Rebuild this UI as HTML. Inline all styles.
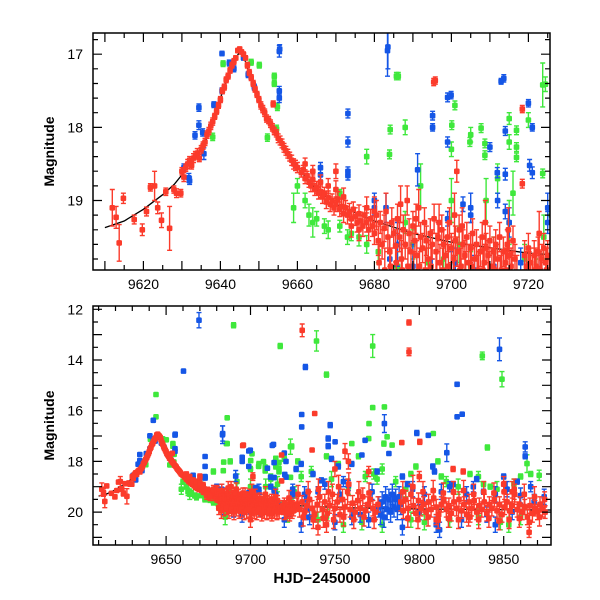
<!DOCTYPE html>
<html><head><meta charset="utf-8"><style>
body{margin:0;background:#fff;}
svg{display:block;font-family:"Liberation Sans",sans-serif;}
</style></head><body>
<svg id="chart" width="600" height="600" viewBox="0 0 600 600">
<defs>
<clipPath id="clipTop"><rect x="93" y="33" width="457" height="237"/></clipPath>
<clipPath id="clipBot"><rect x="93" y="306" width="458" height="239"/></clipPath>
</defs>
<g id="topPlot"></g>
<g id="botPlot"></g>
</svg>
<script>
const modelT=[9610,9615,9620,9625,9628,9630,9632,9634,9636,9638,9640,9642,9644,9645,9646,9648,9650,9652,9654,9656,9658,9660,9665,9670,9680,9690,9700,9720,9750,9800,9880];
const modelM=[19.37,19.28,19.12,18.92,18.78,18.65,18.5,18.35,18.2,17.95,17.6,17.3,17.05,16.97,17.02,17.35,17.65,17.9,18.07,18.25,18.42,18.55,18.85,19.05,19.28,19.45,19.57,19.72,19.82,19.88,19.92];

const greenPts=[[9640.7,17.13,.04],[9650.1,17.15,.04],[9648,17.11,.04],[9654,17.3,.04],[9654,17.4,.04],[9654.8,17.72,.05],[9652.2,18.14,.05],[9638,18.13,.05],[9654.6,18.02,.05],[9685.7,17.3,.05],[9700.9,17.7,.06],[9684.1,18.03,.06],[9700.1,17.97,.06],[9707.7,18.01,.06],[9715,17.88,.08],[9723.7,17.42,.3],[9683.9,18.37,.06],[9704.8,18.2,.06],[9708.7,18.22,.06],[9708.7,18.38,.06],[9716.9,18.04,.06],[9716.9,18.27,.06],[9716.9,18.41,.06],[9723.7,18.63,.06],[9671,18.9,.05],[9671,19.35,.08],[9673,19.5,.1],[9674,19.45,.1],[9662,19.0,.1],[9663,19.2,.15],[9664,19.3,.2],[9660,18.8,.1],[9659,19.1,.2],[9688,19.3,.15],[9690,19.6,.2],[9686,19.9,.2],[9698,19.8,.2],[9702,19.6,.25],[9705,19.9,.2],[9709,19.0,.3],[9715,19.3,.3],[9716,18.9,.3],[9724,19.5,.3],[9726,19.2,.2],[9692,18.8,.3],[9700,19.0,.3],[9665,19.25,.1],[9667,19.35,.1],[9668,19.4,.12],[9676,19.5,.12],[9678,19.6,.12],[9681,19.7,.15],[9694,19.85,.2],[9711,19.7,.2],[9719,19.8,.2],
[9690,12.63,.1],[9717.6,13.45,.1],[9739.1,13.25,.4],[9772.4,13.45,.45],[9837.3,13.84,.15],[9849,14.76,.3],[9745,14.58,.1],[9644,15.36,.04],[9644,16.24,.05],[9686.2,16.28,.05],[9772.4,15.88,.05],[9770.2,16.51,.05],[9686.2,17.3,.05],[9724.4,17.41,.1],[9808.3,16.9,.05],[9840.3,17.45,.1],[9863.8,18.09,.35],[9779.3,15.85,.05],[9780.9,17.03,.05],[9783.9,17.36,.05],[9779,17.3,.1],[9770,17.1,.05],[9760,17.3,.05],[9720,17.9,.1],[9715,18.2,.1],[9728,18.0,.1],[9745,17.8,.1],[9752,18.1,.1],[9764,17.8,.1],[9773,18.5,.2],[9775,18.7,.2],[9795,18.5,.1],[9798,18.2,.1],[9811,18.0,.1],[9813,18.6,.1],[9830,18.5,.1],[9838,18.9,.1],[9842,19.0,.1],[9860,18.6,.1],[9866,18.5,.1],[9700,18.3,.1],[9688,18.0,.1],[9678,18.4,.1],[9705,18.1,.1],[9755,20.5,.3],[9745,20.2,.3],[9722,20.1,.3],[9685,20.2,.3],[9795,20.3,.3],[9803,20.4,.3],[9853,20.5,.3],[9860,20.2,.3],
[9730,18.6,.2],[9736,18.4,.2],[9748,18.7,.3],[9758,19.0,.3],[9768,18.6,.2],[9778,18.3,.2],[9786,18.8,.2],[9792,19.1,.3],[9816,18.8,.2],[9823,19.0,.3],[9835,18.6,.2],[9846,19.1,.3],[9856,18.9,.2],[9871,18.55,.2],[9712,18.7,.2],[9740,20.3,.3],[9766,20.4,.3],[9778,20.5,.3],[9818,20.3,.3],[9835,20.2,.3],[9848,20.4,.3]];

const bluePts=[[9640.4,16.99,.03],[9642.3,17.12,.04],[9634.4,17.73,.05],[9634.4,17.97,.06],[9633.4,18.11,.05],[9635.4,18.07,.05],[9635.7,18.36,.08],[9638.3,17.69,.04],[9640.4,17.5,.04],[9631.8,18.69,.06],[9632,18.73,.05],[9630.5,18.55,.05],[9655.3,16.96,.08],[9655.3,17.5,.06],[9655.3,17.6,.06],[9647.2,17.28,.04],[9648.8,17.45,.04],[9643.5,17.2,.04],[9646,17.05,.03],
[9683.4,16.95,.35],[9712.9,17.37,.04],[9699,17.59,.06],[9673.1,17.81,.06],[9695.1,17.84,.06],[9695.1,18.0,.05],[9714,18.05,.06],[9720,17.67,.05],[9721,18.0,.05],[9673.1,18.2,.07],[9699,18.2,.07],[9710,18.27,.06],[9711.9,18.62,.07],[9714,18.64,.08],[9720.3,18.52,.08],[9721,18.62,.08],[9691.2,18.58,.22],[9673.1,18.66,.06],[9673.1,18.6,.06],[9666,18.55,.07],[9666,18.65,.07],[9680,19.0,.1],[9680,19.1,.1],[9683,19.1,.2],[9699,19.25,.1],[9703,19.05,.1],[9705,19.2,.1],[9712,19.0,.1],[9714,19.15,.1],[9725,19.3,.15],[9684,19.8,.3],[9686,19.6,.3],[9690,19.9,.3],[9701,19.85,.2],[9706,19.95,.2],[9711,19.9,.2],[9718,19.85,.2],[9723,19.95,.2],
[9669.5,12.43,.3],[9732.5,14.28,.1],[9660.3,14.44,.05],[9822.4,14.96,.08],[9847.5,13.58,.45],[9642.4,16.38,.05],[9730.3,16.15,.05],[9730.3,16.64,.05],[9747.2,16.57,.1],[9779.3,16.51,.35],[9822.4,16.24,.05],[9825.4,16.14,.05],[9683.5,16.9,.3],[9655.4,16.93,.06],[9699.9,17.56,.05],[9713.6,17.33,.05],[9750.1,17.23,.05],[9767.9,17.17,.05],[9798.5,16.88,.1],[9805.3,16.97,.05],[9816.3,17.66,.35],[9862.7,17.43,.2],[9862.7,17.8,.1],[9782,17.69,.05],[9766,17.75,.05],[9746,17.1,.1],[9746,17.4,.1],[9748,17.9,.1],[9752,18.2,.1],[9730,18.1,.1],[9727,18.3,.1],[9760,18.1,.1],[9775,18.4,.1],[9790,18.6,.1],[9808,18.2,.1],[9809,18.4,.1],[9820,18.9,.1],[9834,18.7,.1],[9850,18.6,.1],[9858,18.8,.1],[9838,19.2,.1],[9793,18.9,.1],[9737,18.5,.1],[9755,18.8,.2],[9742,18.75,.1],
[9776,19.8,.4],[9777,20.1,.4],[9778,19.6,.4],[9779,20.2,.4],[9780,19.4,.4],[9781,19.9,.4],[9782,19.5,.4],[9783,20.0,.4],[9784,19.3,.4],[9785,19.8,.4],[9786,19.5,.4],[9787,19.9,.4],[9788,19.4,.4],[9789,19.7,.4],[9733,19.9,.4],[9734,19.5,.4],[9735,20.2,.3],[9732,19.3,.3],[9760,20.2,.3],[9750,20.4,.3],[9810,20.5,.3],[9825,20.3,.3],[9840,20.1,.3],[9855,20.0,.3],[9868,19.6,.3],[9874,19.4,.3],[9700,20.0,.3],[9695,20.1,.3],[9720,20.3,.3],[9765,20.1,.3],[9800,20.0,.3],[9770,20.3,.3],
[9705,19.1,.2],[9715,19.3,.2],[9725,19.1,.2],[9740,19.2,.2],[9744,18.9,.2],[9753,19.3,.3],[9758,18.95,.2],[9772,19.2,.3],[9796,19.1,.3],[9803,19.3,.3],[9813,19.2,.3],[9818,19.0,.2],[9828,19.3,.3],[9832,19.0,.2],[9845,19.3,.3],[9852,19.1,.3],[9860,19.35,.3],[9866,19.0,.2],[9730,20.5,.3],[9790,20.6,.3],[9812,20.7,.3],[9845,20.5,.3]];

const redPts=[[9611.9,19.1,.25],[9612.9,19.23,.15],[9613.7,19.58,.25],[9614.8,18.97,.07],[9617.6,19.26,.06],[9619.7,19.4,.08],[9620.8,19.15,.06],[9621.8,18.82,.05],[9622.9,18.8,.2],[9623.7,19.1,.08],[9624.7,19.27,.1],[9625.8,18.88,.05],[9626.8,19.38,.3],[9627.9,18.85,.05],[9628.6,18.9,.06],[9629.7,18.9,.05],
[9630,18.6,.05],[9630.5,18.68,.06],[9631,18.55,.05],[9631.5,18.5,.06],[9632,18.45,.05],[9632.5,18.52,.05],[9633,18.42,.06],[9633.5,18.38,.05],[9634,18.35,.06],[9634.5,18.42,.05],[9635,18.3,.05],[9635.5,18.25,.05],[9636,18.2,.05],[9636.5,18.1,.05],[9637,18.05,.05],[9637.5,17.98,.05],[9638,17.92,.05],[9638.5,17.85,.04],[9639,17.78,.04],[9639.5,17.7,.04],[9640,17.62,.04],[9640.5,17.5,.04],[9641,17.45,.04],[9641.5,17.35,.04],[9642,17.3,.04],[9642.5,17.22,.04],[9643,17.15,.04],[9643.5,17.1,.04],[9644,17.05,.03],[9644.5,16.95,.03],[9645,16.93,.03],[9645.5,16.97,.03],[9646,17.0,.03],[9646.5,17.05,.03],[9647,17.15,.04],[9647.5,17.25,.04],[9648,17.32,.04],[9648.5,17.4,.04],[9649,17.48,.04],[9649.5,17.55,.04],[9650,17.62,.04],[9650.5,17.7,.05],[9651,17.75,.05],[9651.5,17.8,.05],[9652,17.88,.05],[9652.5,17.9,.05],[9653,17.95,.05],[9653.5,18.0,.05],[9654,18.05,.05],[9654.5,18.08,.05],[9655,18.15,.06],[9655.5,18.18,.06],[9656,18.22,.06],[9656.5,18.28,.06],[9657,18.32,.06],[9657.5,18.36,.06],[9658,18.4,.06],[9658.5,18.45,.07],[9659,18.5,.07],[9659.5,18.52,.07],[9660,18.55,.07],
[9661,18.62,.06],[9661.5,18.58,.06],[9662,18.7,.07],[9662.5,18.66,.06],[9663,18.75,.07],[9663.5,18.8,.08],[9664,18.72,.07],[9664.5,18.85,.08],[9665,18.82,.08],[9665.5,18.9,.08],[9666,18.88,.08],[9666.5,18.95,.09],[9667,18.9,.08],[9667.5,19.02,.09],[9668,18.96,.09],[9668.5,19.05,.1],[9669,19.0,.09],[9669.5,19.1,.1],[9670,19.05,.1],[9670.5,18.98,.1],[9671,19.12,.1],[9671.5,19.08,.1],[9672,19.18,.12],[9672.5,19.1,.1],[9673,19.2,.12],[9673.5,19.15,.11],[9674,19.25,.12],[9674.5,19.12,.1],[9675,19.22,.12],[9675.5,19.3,.13],[9676,19.18,.12],[9676.5,19.28,.12],[9677,19.35,.14],[9677.5,19.2,.12],[9678,19.3,.13],[9678.5,19.4,.15],[9679,19.25,.13],[9679.5,19.35,.14],[9680,19.45,.15],
[9662,18.5,.08],[9664,18.6,.08],[9666,18.75,.1],[9668,18.8,.1],[9670,18.85,.12],[9672,18.95,.12],[9674,19.35,.15],[9676,19.4,.15],[9678,19.1,.15],[9680,19.15,.2],
[9680.5,19.2,.2],[9681,19.55,.2],[9681.5,19.3,.15],[9682,19.6,.2],[9682.5,19.38,.18],[9683,19.15,.25],[9683.5,19.5,.2],[9684,19.7,.2],[9684.5,19.3,.2],[9685,19.45,.2],[9685.5,19.62,.22],[9686,19.25,.2],[9686.5,19.5,.2],[9687,19.8,.25],[9687.5,19.4,.2],[9688,19.6,.2],[9688.5,19.0,.2],[9689,19.45,.2],[9689.5,19.7,.25],[9690,19.35,.2],[9690.5,19.55,.2],[9691,19.75,.2],[9691.5,19.1,.25],[9692,19.5,.2],[9692.5,19.65,.2],[9693,19.3,.2],[9693.5,19.55,.2],[9694,19.8,.25],[9694.5,19.45,.2],[9695,19.6,.2],[9695.5,19.25,.2],[9696,19.7,.25],[9696.5,19.5,.2],[9697,19.85,.25],[9697.5,19.4,.2],[9698,19.6,.2],[9698.5,19.75,.25],[9699,19.5,.2],[9699.5,19.3,.2],[9700,19.65,.2],[9700.5,19.8,.25],[9701,19.55,.2],[9701.5,19.7,.2],[9702,19.4,.2],[9702.5,19.9,.25],[9703,19.6,.2],[9703.5,19.75,.2],[9704,19.5,.2],[9704.5,19.85,.25],[9705,19.65,.2],[9705.5,19.45,.2],[9706,19.8,.2],[9706.5,19.6,.2],[9707,19.95,.25],[9707.5,19.7,.2],[9708,19.5,.2],[9708.5,19.85,.25],[9709,19.65,.2],[9709.5,19.75,.2],[9710,19.55,.2],[9710.5,19.9,.25],[9711,19.7,.2],[9711.5,19.6,.2],[9712,19.8,.2],[9712.5,19.5,.2],[9713,19.95,.25],[9713.5,19.7,.2],[9714,19.85,.2],[9714.5,19.6,.2],[9715,19.75,.2],[9715.5,19.9,.25],[9716,19.55,.2],[9716.5,19.8,.2],[9717,20.0,.25],[9719,19.75,.2],[9719.5,19.9,.2],[9720,19.65,.2],[9720.5,19.85,.2],[9721,20.0,.25],[9721.5,19.75,.2],[9722,19.9,.2],[9722.5,19.7,.2],[9723,19.95,.25],[9723.5,19.8,.2],[9724,19.65,.2],[9724.5,19.85,.2],[9725,19.75,.2],[9725.5,19.95,.2],[9726,19.8,.2],
[9681.2,19.85,.25],[9682.7,19.95,.3],[9684.2,19.9,.25],[9685.7,19.85,.25],[9687.2,19.95,.3],[9688.7,19.9,.25],[9690.2,20.0,.3],[9691.7,19.9,.25],[9693.2,19.95,.3],[9694.7,19.9,.3],[9696.2,20.0,.3],[9697.7,19.95,.3],[9699.2,19.9,.3],[9700.7,20.05,.3],[9702.2,19.95,.3],[9703.7,20.0,.3],[9705.2,19.9,.3],[9706.7,20.05,.3],[9708.2,19.95,.3],[9709.7,20.0,.3],[9711.2,19.95,.3],[9712.7,20.05,.3],[9714.2,19.95,.3],[9715.7,20.0,.3],[9720.2,20.0,.3],[9721.7,19.95,.3],[9723.2,20.05,.3],[9724.7,19.95,.3],[9690.8,19.25,.2],[9696.8,19.3,.25],[9702.8,19.35,.25],[9708.8,19.3,.3],[9714.8,19.4,.3],[9722.8,19.45,.3],[9686.8,19.05,.25],[9700.8,19.2,.3],
[9727.5,19.7,.25],[9729,19.9,.3],[9730.5,19.6,.25],[9732,20.0,.3],[9733.5,19.75,.25],[9735,19.5,.3],[9736.5,19.85,.3],[9738,20.1,.3],[9739.5,19.7,.3],[9741,19.4,.4],[9742.5,19.9,.3],[9744,19.6,.3],[9745.5,20.05,.3],[9747,19.75,.3],[9748.5,19.3,.4],[9750,19.85,.3],[9751.5,19.6,.3],[9753,20.1,.3],[9754.5,19.5,.4],[9756,19.8,.3],[9757.5,19.2,.5],[9759,19.9,.3],[9760.5,19.65,.3],[9762,20.0,.3],[9763.5,19.55,.3],[9765,19.85,.3],[9766.5,19.4,.35],[9768,19.95,.3],[9769.5,19.7,.3],[9771,19.5,.3],[9772.5,19.85,.3],[9774,20.0,.3],[9775.5,19.7,.3],[9789,19.6,.35],[9790.5,19.95,.3],[9792,19.5,.35],[9793.5,19.85,.3],[9795,19.3,.4],[9796.5,19.75,.3],[9798,20.05,.3],[9799.5,19.55,.3],[9801,19.85,.3],[9802.5,19.7,.3],[9804,20.0,.3],[9805.5,19.6,.3],[9807,19.9,.3],[9808.5,19.45,.3],[9810,19.8,.3],[9811.5,20.1,.3],[9813,19.7,.3],[9814.5,19.5,.3],[9816,19.9,.3],[9817.5,19.75,.3],[9819,20.05,.3],[9820.5,19.6,.3],[9822,19.85,.3],[9823.5,19.5,.3],[9825,19.95,.3],[9826.5,19.7,.3],[9828,20.1,.3],[9829.5,19.6,.3],[9831,19.85,.3],[9832.5,19.55,.3],[9834,20.0,.3],[9835.5,19.75,.3],[9837,19.9,.3],[9838.5,19.6,.3],[9840,20.05,.3],[9841.5,19.7,.3],[9843,19.85,.3],[9844.5,19.5,.3],[9846,19.95,.3],[9847.5,19.7,.3],[9849,20.1,.3],[9850.5,19.8,.3],[9852,19.6,.3],[9853.5,19.95,.3],[9855,19.75,.3],[9856.5,19.3,.4],[9858,19.9,.3],[9859.5,19.7,.3],[9861,20.0,.3],[9862.5,19.8,.3],[9864,20.2,.3],[9865.5,19.75,.3],[9867,20.05,.35],[9868.5,19.85,.3],[9870,20.0,.3],[9871.5,19.7,.3],[9873,19.9,.3],[9874.5,20.0,.25],
[9728.2,19.3,.35],[9731.2,20.2,.35],[9734.2,19.2,.4],[9737.2,20.3,.35],[9740.2,19.1,.4],[9743.2,20.25,.35],[9746.2,19.2,.4],[9749.2,20.3,.35],[9752.2,19.0,.45],[9755.2,20.2,.35],[9758.2,18.9,.45],[9761.2,20.3,.35],[9764.2,19.2,.4],[9767.2,20.2,.35],[9770.2,19.25,.4],[9773.2,20.3,.35],[9790.2,19.2,.4],[9793.2,20.25,.35],[9796.2,19.0,.45],[9799.2,20.3,.35],[9802.2,19.2,.4],[9805.2,20.2,.35],[9808.2,19.15,.4],[9811.2,20.3,.35],[9814.2,19.25,.4],[9817.2,20.25,.35],[9820.2,19.2,.4],[9823.2,20.3,.35],[9826.2,19.15,.4],[9829.2,20.2,.35],[9832.2,19.3,.4],[9835.2,20.3,.35],[9838.2,19.2,.4],[9841.2,20.25,.35],[9844.2,19.25,.4],[9847.2,20.35,.35],[9850.2,19.2,.4],[9853.2,20.3,.35],[9856.2,19.1,.4],[9859.2,20.25,.35],[9862.2,19.3,.4],[9865.2,20.4,.35],[9868.2,19.4,.4],[9871.2,20.2,.35],[9874.2,19.5,.3],
[9730.6,12.83,.25],[9793.9,12.52,.1],[9793.9,13.68,.15],[9738,16.11,.05],[9695.8,17.36,.05],[9736.5,17.55,.05],[9789.6,17.26,.05],[9800.3,17.23,.1],[9695.4,17.38,.05],[9718.4,17.75,.05],[9718.4,18.77,.06],[9701.4,18.6,.15],[9653.7,17.68,.04],[9756,17.6,.3],[9758,18.0,.3],[9750,18.3,.3],[9770,18.4,.2],[9800,18.6,.2],[9820,18.3,.1],[9826,18.4,.1],[9850,18.9,.3],[9855,19.2,.4],[9865,20.8,.2],[9700,20.3,.3],[9740,20.6,.3],[9745,20.5,.3],[9810,20.3,.2],[9830,20.2,.2],[9670,18.6,.1]];

const topXTicks=[9620,9640,9660,9680,9700,9720];
const topYTicks=[17,18,19];
const botXTicks=[9650,9700,9750,9800,9850];
const botYTicks=[12,14,16,18,20];

const NS="http://www.w3.org/2000/svg";
function mk(tag,attrs,parent){const e=document.createElementNS(NS,tag);for(const k in attrs)e.setAttribute(k,attrs[k]);parent.appendChild(e);return e;}

const panels=[
 {g:document.getElementById('topPlot'),x0:93,x1:550,y0:33,y1:270,t0:9606.9,t1:9725.6,m0:16.71,m1:19.95,clip:'clipTop',xMin:5,xMaj:10,yMin:0.2,yMaj:1,xt:topXTicks,yt:topYTicks,name:'top'},
 {g:document.getElementById('botPlot'),x0:93,x1:551,y0:306,y1:545,t0:9606.7,t1:9878,m0:11.87,m1:21.3,clip:'clipBot',xMin:10,xMaj:50,yMin:0.5,yMaj:1,xt:botXTicks,yt:botYTicks,name:'bottom'}
];
const colors={green:'#3fe83c',blue:'#1556e6',red:'#fb3b2b'};

panels.forEach(p=>{
 const X=t=>p.x0+(t-p.t0)/(p.t1-p.t0)*(p.x1-p.x0);
 const Y=m=>p.y0+(m-p.m0)/(p.m1-p.m0)*(p.y1-p.y0);
 const data=mk('g',{'clip-path':'url(#'+p.clip+')'},p.g);
 
 
 let d='';modelT.forEach((t,i)=>{d+=(i?'L':'M')+X(t).toFixed(1)+','+Y(modelM[i]).toFixed(1);});
 const ln=mk('path',{d:d,fill:'none',stroke:'#000','stroke-width':1.3},data);
 
 
 [['green',greenPts],['blue',bluePts],['red',redPts]].forEach(([c,pts])=>{
  const sg=mk('g',{fill:colors[c],stroke:colors[c]},data);
  
  
  pts.forEach(pt=>{
   const x=X(pt[0]),y=Y(pt[1]),ya=Y(pt[1]-pt[2]),yb=Y(pt[1]+pt[2]);
   const g=mk('g',{},sg);
   
   
   mk('path',{d:`M${x.toFixed(1)},${ya.toFixed(1)}V${yb.toFixed(1)}M${(x-2.5).toFixed(1)},${ya.toFixed(1)}h5M${(x-2.5).toFixed(1)},${yb.toFixed(1)}h5`,'stroke-width':1.4,fill:'none'},g);
   mk('rect',{x:(x-2.8).toFixed(1),y:(y-2.8).toFixed(1),width:5.6,height:5.6,rx:1.3,stroke:'none'},g);
  });
 });
 const fr=mk('rect',{x:p.x0,y:p.y0,width:p.x1-p.x0,height:p.y1-p.y0,fill:'none',stroke:'#000','stroke-width':1.5},p.g);
 
 
 const ax=mk('g',{stroke:'#000','stroke-width':1.2},p.g);
 
 
 let td='';
 for(let t=Math.ceil(p.t0/p.xMin)*p.xMin;t<=p.t1;t+=p.xMin){
  const x=X(t).toFixed(1),L=(Math.abs(t/p.xMaj-Math.round(t/p.xMaj))<1e-6)?9:5;
  td+=`M${x},${p.y1}v${-L}M${x},${p.y0}v${L}`;
 }
 for(let m=Math.ceil(p.m0/p.yMin)*p.yMin;m<=p.m1+1e-6;m+=p.yMin){
  const y=Y(m).toFixed(1),L=(Math.abs(m/p.yMaj-Math.round(m/p.yMaj))<1e-6)?9:5;
  td+=`M${p.x0},${y}h${L}M${p.x1},${y}h${-L}`;
 }
 mk('path',{d:td,fill:'none'},ax);
 p.xt.forEach(t=>{
  const tx=mk('text',{x:X(t),y:p.y1+19,'text-anchor':'middle','font-size':14,fill:'#000'},p.g);
  tx.textContent=t;
  
  
 });
 p.yt.forEach(m=>{
  const tx=mk('text',{x:p.x0-10,y:Y(m)+5,'text-anchor':'end','font-size':14,fill:'#000'},p.g);
  tx.textContent=m;
  
  
 });
 const yt=mk('text',{x:0,y:0,transform:`translate(54,${(p.y0+p.y1)/2}) rotate(-90)`,'text-anchor':'middle','font-size':14,'font-weight':'bold',fill:'#000'},p.g);
 yt.textContent='Magnitude';
 
 
});
const xt=mk('text',{x:322,y:583,'text-anchor':'middle','font-size':15,'font-weight':'bold',fill:'#000'},document.getElementById('botPlot'));
xt.textContent='HJD\u22122450000';


</script>
</body></html>
